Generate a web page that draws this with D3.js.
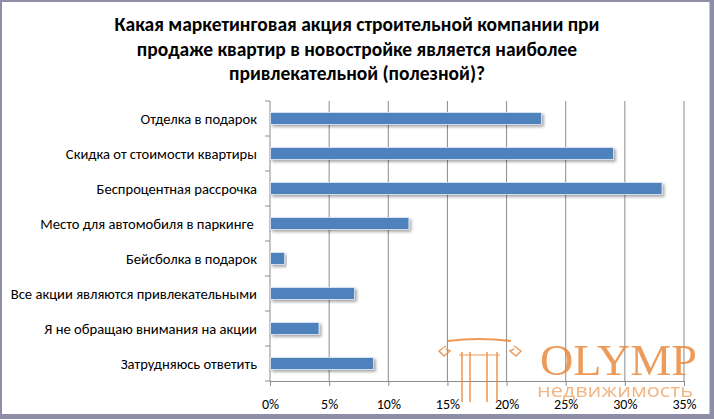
<!DOCTYPE html>
<html>
<head>
<meta charset="utf-8">
<script src="https://cdn.jsdelivr.net/npm/d3@7"></script>
<style>
  body { margin: 0; background: #fff; }
  svg text { font-family: Carlito, "Liberation Sans Narrow", "Liberation Sans", Arial, sans-serif; }
</style>
</head>
<body>
<div class="chart"></div>
<script>
var svgWidth = 714;
var svgHeight = 419;

// Data
var titleLines = [
  "Какая маркетинговая акция строительной компании при",
  "продаже квартир в новостройке является наиболее",
  "привлекательной (полезной)?"
];
var categories = [
  "Отделка в подарок",
  "Скидка от стоимости квартиры",
  "Беспроцентная рассрочка",
  "Место для автомобиля в паркинге ",
  "Бейсболка в подарок",
  "Все акции являются привлекательными",
  "Я не обращаю внимания на акции",
  "Затрудняюсь ответить"
];
var values = [22.9, 29.0, 33.1, 11.7, 1.2, 7.1, 4.1, 8.7];
var xTicks = [0, 5, 10, 15, 20, 25, 30, 35];

var margin = { top: 101, right: 30, bottom: 38, left: 270 };
var width = svgWidth - margin.left - margin.right;
var height = svgHeight - margin.top - margin.bottom;

var svg = d3.select(".chart")
  .append("svg")
  .attr("width", svgWidth)
  .attr("height", svgHeight);

var defs = svg.append("defs");
var shadow = defs.append("filter")
  .attr("id", "shadow")
  .attr("x", "-5%").attr("y", "-40%")
  .attr("width", "115%").attr("height", "200%");
shadow.append("feDropShadow")
  .attr("dx", 2).attr("dy", 2)
  .attr("stdDeviation", 1.5)
  .attr("flood-color", "#000")
  .attr("flood-opacity", 0.35);

// outer frame
svg.append("rect")
  .attr("x", 0).attr("y", 0)
  .attr("width", svgWidth).attr("height", svgHeight)
  .attr("fill", "#fff");
svg.append("path")
  .attr("d", `M1,${svgHeight} V1 H${svgWidth}`)
  .attr("fill", "none").attr("stroke", "#8e8ea8").attr("stroke-width", 2);
svg.append("path")
  .attr("d", `M0,${svgHeight - 2.5} H${svgWidth - 2} V0`)
  .attr("fill", "none").attr("stroke", "#8e8ea8").attr("stroke-width", 5);

// title
var title = svg.append("text")
  .attr("text-anchor", "middle")
  .attr("font-weight", "bold")
  .attr("font-size", "19.5px")
  .attr("fill", "#000");
title.selectAll("tspan")
  .data(titleLines)
  .enter()
  .append("tspan")
  .attr("x", 357)
  .attr("y", (d, i) => 31 + i * 24.5)
  .text(d => d);

var chartGroup = svg.append("g")
  .attr("transform", `translate(${margin.left}, ${margin.top})`);

var xScale = d3.scaleLinear()
  .domain([0, 35])
  .range([0, width]);

var yScale = d3.scaleBand()
  .domain(categories)
  .range([0, height])
  .paddingInner(0.66)
  .paddingOuter(0.33);

// gridlines
chartGroup.append("g")
  .selectAll("line")
  .data(xTicks.slice(1))
  .enter()
  .append("line")
  .attr("x1", d => xScale(d)).attr("x2", d => xScale(d))
  .attr("y1", 0).attr("y2", height)
  .attr("stroke", "#8c8c8c")
  .attr("stroke-width", 1);

// bottom axis
var bottomAxis = d3.axisBottom(xScale)
  .tickValues(xTicks)
  .tickFormat(d => d + "%")
  .tickSizeInner(5)
  .tickSizeOuter(0)
  .tickPadding(13);

var xAxisG = chartGroup.append("g")
  .attr("transform", `translate(0, ${height})`)
  .call(bottomAxis);
xAxisG.select(".domain").attr("stroke", "#8c8c8c");
xAxisG.selectAll(".tick line").attr("stroke", "#8c8c8c");
xAxisG.selectAll("text")
  .attr("font-size", "14px")
  .attr("fill", "#000")
  .style("font-family", "Carlito, 'Liberation Sans', sans-serif");

// left axis: category ticks between bands
var yAxisG = chartGroup.append("g");
yAxisG.append("line")
  .attr("x1", 0).attr("x2", 0)
  .attr("y1", 0).attr("y2", height)
  .attr("stroke", "#8c8c8c");
var step = yScale.step();
yAxisG.selectAll("line.cat")
  .data(d3.range(categories.length + 1))
  .enter()
  .append("line")
  .attr("class", "cat")
  .attr("x1", -5).attr("x2", 0)
  .attr("y1", i => i * step).attr("y2", i => i * step)
  .attr("stroke", "#8c8c8c");

yAxisG.selectAll("text")
  .data(categories)
  .enter()
  .append("text")
  .attr("x", -13)
  .attr("y", d => yScale(d) + yScale.bandwidth() / 2)
  .attr("dy", "0.35em")
  .attr("text-anchor", "end")
  .attr("font-size", "14.6px")
  .attr("fill", "#000")
  .style("white-space", "pre")
  .text(d => d);

// bars
chartGroup.selectAll("rect.bar")
  .data(values)
  .enter()
  .append("rect")
  .attr("class", "bar")
  .attr("x", 0.5)
  .attr("y", (d, i) => yScale(categories[i]))
  .attr("width", d => xScale(d))
  .attr("height", yScale.bandwidth())
  .attr("fill", "#4f81bd")
  .attr("stroke", "#dfe8f3")
  .attr("stroke-width", 0.8)
  .attr("filter", "url(#shadow)");

// watermark
var wm = svg.append("g").attr("opacity", 0.85);
var orange = "#e98a3e";
wm.append("path")
  .attr("d", "M448,341 Q479,337 511,341")
  .attr("fill", "none").attr("stroke", orange).attr("stroke-width", 2);
wm.append("line").attr("x1", 459).attr("x2", 500).attr("y1", 355).attr("y2", 355)
  .attr("stroke", orange).attr("stroke-width", 1.2);
[462, 470, 487, 497].forEach(function(x) {
  wm.append("line").attr("x1", x).attr("x2", x).attr("y1", 352).attr("y2", 402)
    .attr("stroke", orange).attr("stroke-width", 1.6);
});
wm.append("path")
  .attr("d", "M446,346 L439,351 L444,356 L450,351 L446,349")
  .attr("fill", "none").attr("stroke", orange).attr("stroke-width", 1.5);
wm.append("path")
  .attr("d", "M514,346 L521,351 L516,356 L510,351 L514,349")
  .attr("fill", "none").attr("stroke", orange).attr("stroke-width", 1.5);
wm.append("text")
  .attr("x", 540).attr("y", 375)
  .attr("textLength", 157).attr("lengthAdjust", "spacingAndGlyphs")
  .attr("font-size", "44px")
  .attr("fill", orange)
  .style("font-family", "'Liberation Serif', 'DejaVu Serif', serif")
  .text("OLYMP");
wm.append("text")
  .attr("x", 537).attr("y", 397)
  .attr("textLength", 156).attr("lengthAdjust", "spacingAndGlyphs")
  .attr("font-size", "19px")
  .attr("fill", "#f0a86c")
  .style("font-family", "'Open Sans', sans-serif")
  .text("недвижимость");
</script>
</body>
</html>
